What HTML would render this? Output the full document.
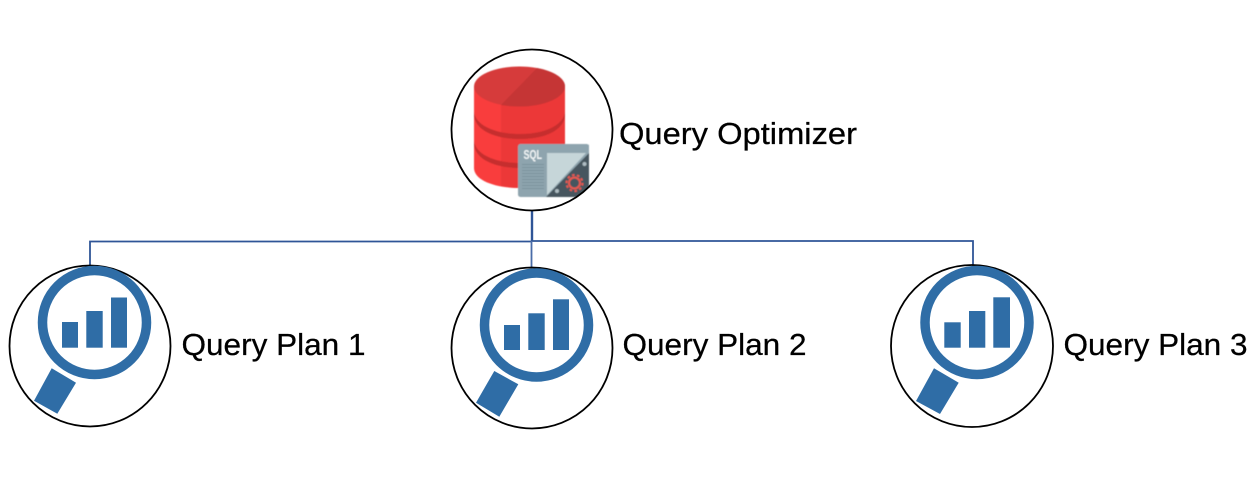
<!DOCTYPE html>
<html>
<head>
<meta charset="utf-8">
<style>
html,body{margin:0;padding:0;background:#fff}
svg{display:block}
text{font-family:"Liberation Sans",sans-serif;fill:#000}
.l{stroke:#000;stroke-width:0.25px}
</style>
</head>
<body>
<svg xmlns="http://www.w3.org/2000/svg" width="1256" height="480" viewBox="0 0 1256 480">
<defs>
<filter id="b" x="-5%" y="-5%" width="110%" height="110%"><feGaussianBlur stdDeviation="0.45"/></filter>
<clipPath id="c"><circle cx="532" cy="130" r="80.5"/></clipPath>
</defs>
<rect width="1256" height="480" fill="#fff"/>

<!-- connectors -->
<g fill="none" stroke="#2f5597">
<path d="M90 266V241.5H532" stroke-width="1.8"/>
<path d="M532 241H973V266" stroke-width="1.8"/>
<path d="M532 210V241" stroke-width="2.4"/>
<path d="M531.5 241V268" stroke-width="1.8" stroke="#4a6ca8"/>
</g>

<!-- database icon -->
<g clip-path="url(#c)">
<g filter="url(#b)">
<path d="M474 86V168C474 180 494 188 520 188C545 188 565 180 565 168V86Z" fill="#f93c3c"/>
<path d="M501 100V186C507 187 513 188 520 188C545 188 565 180 565 168V86Z" fill="#ec3737"/>
<ellipse cx="519.5" cy="86.5" rx="45.5" ry="20" fill="#d63b3b"/>
<path d="M537 68C553 71 565 78 565 86.5C565 97 545 106.5 519.5 106.5C513 106.5 507 106 501 105Z" fill="#c53535"/>
<path d="M474 112C476 126 496 134 520 134C544 134 563 126 565 112V116C563 131 544 139 520 139C496 139 476 131 474 116Z" fill="#c62f2f"/>
<path d="M474 141C476 155 496 163 520 163C544 163 563 155 565 141V145C563 160 544 168 520 168C496 168 476 160 474 145Z" fill="#c62f2f"/>
<rect x="518" y="144" width="71" height="53" rx="2.5" fill="#8ea4ae"/>
<path d="M547 153H586L547 195Z" fill="#c6d6d9"/>
<path d="M589 153V194Q589 197 586 197H546Z" fill="#47565e"/>
<path d="M589 144V153L586 153Z" fill="#8ea4ae"/>
<circle cx="574.5" cy="183" r="5.5" fill="none" stroke="#e8584f" stroke-width="2"/>
<circle cx="574.5" cy="183" r="8" fill="none" stroke="#e8584f" stroke-width="2" stroke-dasharray="2.5 2.5"/>
<circle cx="584.5" cy="164" r="2" fill="#aebcc2"/>
<circle cx="557" cy="191" r="2" fill="#aebcc2"/>
<g stroke="#7c929d" stroke-width="0.9">
<path d="M522 164.5H544M522 167.5H544M522 170.5H544M522 173.5H544M522 176.5H544M522 179.5H544M522 182.5H544M522 185.5H544M522 188.5H544"/>
</g>
<text x="523.5" y="159" font-size="12.500" font-weight="700" textLength="18.500" lengthAdjust="spacingAndGlyphs" style="fill:#f2f5f6">SQL</text>
</g>
</g>

<!-- circles -->
<g fill="none" stroke="#000" stroke-width="1.8">
<circle cx="532" cy="130" r="80.5"/>
<circle cx="90" cy="346" r="80.5"/>
<circle cx="532" cy="348" r="80.5"/>
<circle cx="972" cy="346" r="81"/>
</g>

<!-- magnifier 1 -->
<g fill="#2f6da6">
<circle cx="94.5" cy="322.5" r="52" fill="none" stroke="#2f6da6" stroke-width="9.5"/>
<rect x="62" y="322" width="16" height="25.7"/>
<rect x="86.3" y="311" width="16.4" height="36.7"/>
<rect x="111" y="297.5" width="16" height="50.2"/>
<polygon points="51.7,368.3 76,382.7 57.3,413.7 34,400.7"/>
</g>
<!-- magnifier 2 -->
<g fill="#2f6da6">
<circle cx="536.5" cy="325" r="52" fill="none" stroke="#2f6da6" stroke-width="9.5"/>
<rect x="504" y="325" width="16" height="25"/>
<rect x="528.3" y="313.3" width="16.4" height="36.7"/>
<rect x="553" y="299.3" width="16" height="50.7"/>
<polygon points="494.3,371 518.3,384.3 499.3,416.7 476,402.7"/>
</g>
<!-- magnifier 3 -->
<g fill="#2f6da6">
<circle cx="977" cy="322.5" r="52" fill="none" stroke="#2f6da6" stroke-width="9.5"/>
<rect x="944.3" y="322.3" width="16.4" height="25.4"/>
<rect x="969" y="311" width="16.3" height="36.7"/>
<rect x="993.3" y="297.3" width="16.7" height="50.4"/>
<polygon points="934,368.3 958.7,382.7 940,414 916,401"/>
</g>

<!-- labels -->
<text class="l" x="619" y="144" font-size="31" textLength="238" lengthAdjust="spacingAndGlyphs">Query Optimizer</text>
<text class="l" x="181.5" y="355" font-size="31" textLength="184" lengthAdjust="spacingAndGlyphs">Query Plan 1</text>
<text class="l" x="622.5" y="355" font-size="31" textLength="184" lengthAdjust="spacingAndGlyphs">Query Plan 2</text>
<text class="l" x="1063.5" y="355" font-size="31" textLength="184" lengthAdjust="spacingAndGlyphs">Query Plan 3</text>
</svg>
</body>
</html>
